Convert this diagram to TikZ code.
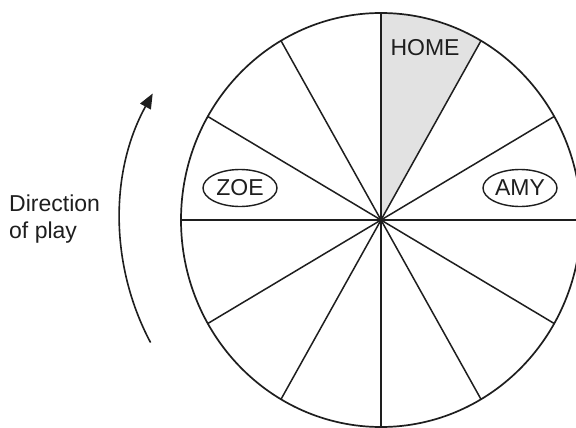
\documentclass[tikz,border=0pt]{standalone}
\usepackage{fontspec}
\setmainfont{Liberation Sans}
\usetikzlibrary{shapes.geometric,arrows.meta}
\definecolor{ink}{HTML}{1E1E1E}
\definecolor{homegrey}{HTML}{E2E2E2}
\tikzset{
  wheel/.style={draw=ink, line width=1.7pt},
  spoke/.style={draw=ink, line width=1.5pt},
  label/.style={font=\fontsize{23}{27}\selectfont, text=ink, inner sep=0pt},
  player/.style={label, draw=ink, line width=1.4pt, ellipse, minimum width=74pt, minimum height=37pt, inner sep=0pt},
}
\begin{document}
\begin{tikzpicture}[x=1pt,y=1pt]
\useasboundingbox (0,0) rectangle (576,-428);
\fill[white] (0,0) rectangle (576,-428);
\clip (0,0) rectangle (576,-428);
\coordinate (c) at (381,-220);
% shaded HOME sector
\fill[fill=homegrey] (c) -- ++(60:200 and 207) arc[start angle=60, end angle=90, x radius=200, y radius=207] -- cycle;
% spokes
\foreach \a in {0,30,...,330}{
  \draw[spoke] (c) -- ++(\a:200 and 207);
}
% rim
\draw[wheel] (c) ellipse[x radius=200, y radius=207];
% labels
\node[label] (home) at (425,-48) {HOME};
\node[player] (zoe) at (240,-188) {ZOE};
\node[player] (amy) at (520,-188) {AMY};
\node[label, align=left, anchor=north west] (dir) at (9,-195) {Direction\\of play};
% direction arrow
\coordinate (arrstart) at ([shift={(208:261)}]c);
\draw[ink, line width=1.6pt, -{Triangle[length=15pt, width=12pt]}]
  (arrstart) arc[start angle=208, end angle=151, radius=261];
\end{tikzpicture}
\end{document}
